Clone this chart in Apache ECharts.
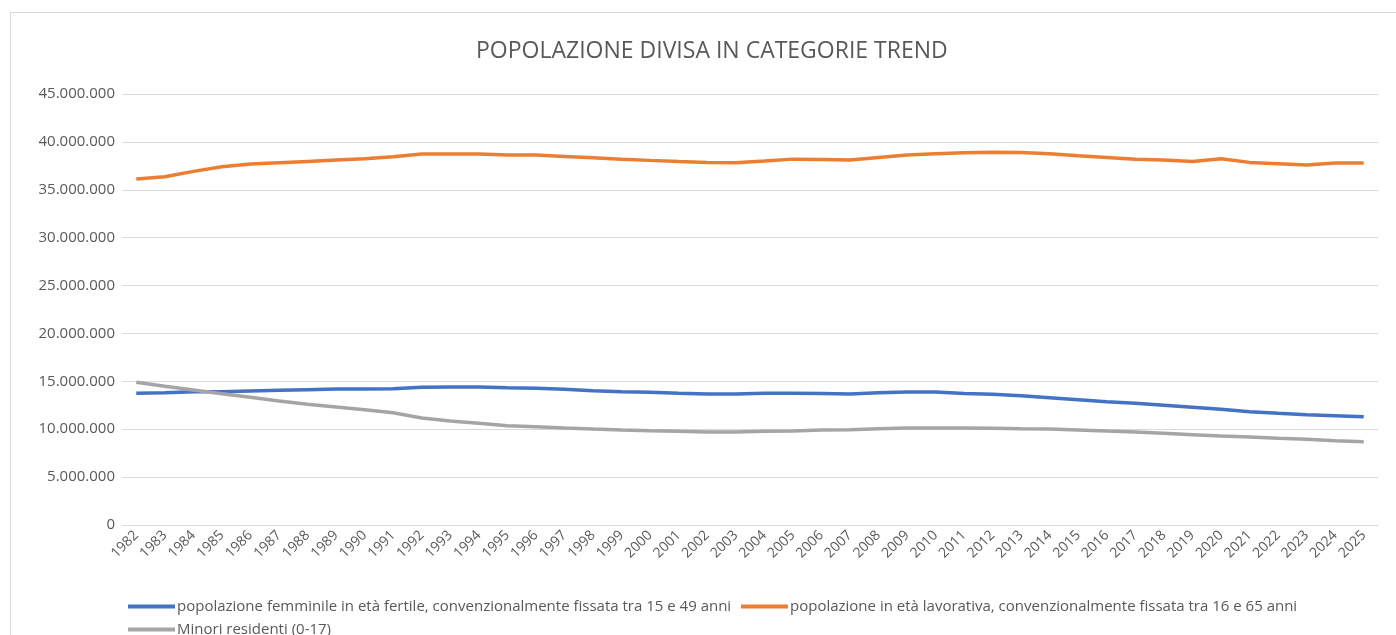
<!DOCTYPE html>
<html><head><meta charset="utf-8">
<script src="https://cdn.jsdelivr.net/npm/echarts@6/dist/echarts.min.js"></script>
<style>html,body{margin:0;padding:0;background:#fff}#c{width:1396px;height:635px}</style>
</head><body><div id="c"></div>
<script>
const years = ['1982','1983','1984','1985','1986','1987','1988','1989','1990','1991','1992','1993','1994','1995','1996','1997','1998','1999','2000','2001','2002','2003','2004','2005','2006','2007','2008','2009','2010','2011','2012','2013','2014','2015','2016','2017','2018','2019','2020','2021','2022','2023','2024','2025'];
const femminile = [13760000,13800000,13900000,13920000,13990000,14060000,14130000,14200000,14200000,14230000,14370000,14400000,14400000,14330000,14270000,14170000,14020000,13920000,13850000,13750000,13680000,13680000,13750000,13750000,13720000,13680000,13810000,13880000,13880000,13720000,13650000,13500000,13290000,13080000,12870000,12700000,12500000,12290000,12080000,11830000,11660000,11510000,11410000,11300000];
const lavorativa = [36120000,36360000,36920000,37400000,37680000,37820000,37960000,38100000,38240000,38450000,38730000,38730000,38730000,38620000,38620000,38480000,38340000,38200000,38070000,37960000,37860000,37820000,38000000,38200000,38170000,38100000,38380000,38620000,38760000,38860000,38930000,38900000,38760000,38550000,38380000,38200000,38100000,37960000,38240000,37860000,37720000,37580000,37790000,37790000];
const minori = [14900000,14480000,14090000,13700000,13330000,12940000,12600000,12320000,12030000,11720000,11170000,10860000,10620000,10370000,10260000,10130000,10020000,9920000,9840000,9780000,9710000,9710000,9780000,9810000,9920000,9950000,10050000,10130000,10130000,10130000,10090000,10050000,10020000,9920000,9810000,9710000,9570000,9430000,9290000,9190000,9050000,8950000,8800000,8700000];
const names = ['popolazione femminile in età fertile, convenzionalmente fissata tra 15 e 49 anni','popolazione in età lavorativa, convenzionalmente fissata tra 16 e 65 anni','Minori residenti (0-17)'];
const colors = ['#4472C4','#ED7D31','#A5A5A5'];
const txt = '#595959';
const font = 'Open Sans';
const fmt = v => String(v).replace(/\B(?=(\d{3})+(?!\d))/g, '.');
const chart = echarts.init(document.getElementById('c'));
const legendBase = {orient:'horizontal', itemWidth:47, itemHeight:4, itemGap:0, icon:'rect', textStyle:{color:txt, fontSize:15, fontFamily:font, padding:[0,0,0,-3]}, selectedMode:false};
chart.setOption({
  backgroundColor:'#fff',
  animation:false,
  graphic:[{type:'rect', shape:{x:10.5,y:12.5,width:1400,height:640}, style:{fill:'none', stroke:'#d9d9d9', lineWidth:1}, silent:true}],
  title:{text:'POPOLAZIONE DIVISA IN CATEGORIE TREND', left:471, top:35, textStyle:{color:txt, fontSize:23, fontWeight:'normal', fontFamily:font}},
  legend:[
    Object.assign({}, legendBase, {left:123, top:594, data:[{name:names[0]}]}),
    Object.assign({}, legendBase, {left:736, top:594, data:[{name:names[1]}]}),
    Object.assign({}, legendBase, {left:123, top:617, data:[{name:names[2]}]})
  ],
  grid:{left:122, right:18, top:94, bottom:110},
  xAxis:{type:'category', data:years, boundaryGap:true,
    axisLine:{lineStyle:{color:'#d9d9d9', width:1}}, axisTick:{show:false},
    axisLabel:{rotate:45, interval:0, color:txt, fontSize:14, fontFamily:font, margin:8}},
  yAxis:{type:'value', min:0, max:45000000, interval:5000000,
    axisLine:{show:false}, axisTick:{show:false},
    splitLine:{lineStyle:{color:'#d9d9d9', width:1}},
    axisLabel:{color:txt, fontSize:15, fontFamily:font, margin:7, formatter:fmt}},
  series:[
    {name:names[0], type:'line', data:femminile, symbol:'none', lineStyle:{color:colors[0], width:3.5}, itemStyle:{color:colors[0]}},
    {name:names[1], type:'line', data:lavorativa, symbol:'none', lineStyle:{color:colors[1], width:3.5}, itemStyle:{color:colors[1]}},
    {name:names[2], type:'line', data:minori, symbol:'none', lineStyle:{color:colors[2], width:3.5}, itemStyle:{color:colors[2]}}
  ]
});
</script></body></html>
